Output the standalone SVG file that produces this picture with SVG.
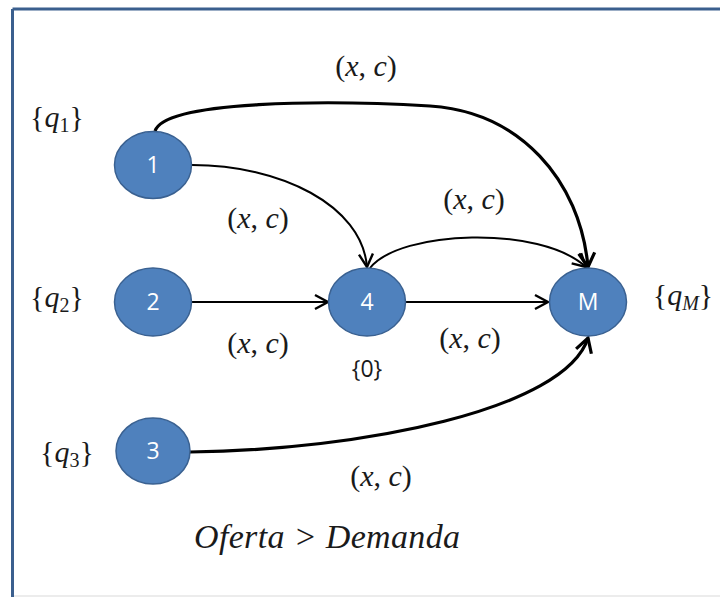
<svg xmlns="http://www.w3.org/2000/svg" width="720" height="597" viewBox="0 0 720 597">
<style>
.node ellipse{fill:#4F81BD;stroke:#3A6191;stroke-width:1.5}
.node text{fill:#fff;font-family:"Open Sans","Liberation Sans",sans-serif;font-size:23px;text-anchor:middle}
.m{font-family:"Liberation Serif","DejaVu Serif",serif;font-size:30px;fill:#1a1a1a;text-anchor:middle}
.i{font-style:italic}
.s{font-size:20px}
.big{font-size:34px}
.lbl{font-family:"Open Sans","Liberation Sans",sans-serif;font-size:23px;fill:#1a1a1a;text-anchor:middle}
.e{fill:none;stroke:#000}
.thin{stroke-width:2}
.thick{stroke-width:3.2}
</style>
<defs>
<marker id="ah" markerUnits="userSpaceOnUse" markerWidth="20" markerHeight="20" refX="15" refY="8" orient="auto" viewBox="0 0 20 16">
<path d="M2,1 L15,8 L2,15" fill="none" stroke="#000" stroke-width="2.4"/>
</marker>
<marker id="ahb" markerUnits="userSpaceOnUse" markerWidth="22" markerHeight="22" refX="16" refY="9" orient="auto" viewBox="0 0 22 18">
<path d="M2,1 L16,9 L2,17" fill="none" stroke="#000" stroke-width="3.2"/>
</marker>
</defs>
<rect x="0" y="0" width="720" height="597" fill="#fff"/>
<g id="frame">
<line x1="12.5" y1="9" x2="720" y2="9" stroke="#3B5F8E" stroke-width="3"/>
<line x1="12.5" y1="9" x2="12.5" y2="597" stroke="#3B5F8E" stroke-width="3"/>
<line x1="14" y1="596" x2="720" y2="596" stroke="#e6e6e6" stroke-width="1.5"/>
</g>
<g id="connectors">
<path class="e thick" d="M155,131 C165,100 330,100 430,106 C520,112 580,180 588,267" marker-end="url(#ahb)"/>
<path class="e thin" d="M192,165 C280,165 362,205 367,267" marker-end="url(#ah)"/>
<path class="e thin" d="M370,268 C400,230 540,225 586,267" marker-end="url(#ah)"/>
<path class="e thin" d="M192,302 L328,302" marker-end="url(#ah)"/>
<path class="e thin" d="M406,302 L548,302" marker-end="url(#ah)"/>
<path class="e thick" d="M190,452 C360,450 565,410 588,338" marker-end="url(#ahb)"/>
</g>
<g id="node1" class="node"><ellipse cx="153" cy="165" rx="38.5" ry="33.5"/><text x="153" y="173">1</text></g>
<g id="node2" class="node"><ellipse cx="153" cy="302" rx="38.5" ry="34"/><text x="153" y="310">2</text></g>
<g id="node3" class="node"><ellipse cx="153" cy="451" rx="37" ry="33"/><text x="153" y="459">3</text></g>
<g id="node4" class="node"><ellipse cx="367" cy="302" rx="38.5" ry="34"/><text x="367" y="310">4</text></g>
<g id="nodeM" class="node"><ellipse cx="588" cy="302" rx="38.5" ry="34"/><text x="588" y="310">M</text></g>
<g id="labels">
<text class="m" x="366" y="76">(<tspan class="i">x</tspan>, <tspan class="i">c</tspan>)</text>
<text class="m" x="258" y="228">(<tspan class="i">x</tspan>, <tspan class="i">c</tspan>)</text>
<text class="m" x="474" y="209">(<tspan class="i">x</tspan>, <tspan class="i">c</tspan>)</text>
<text class="m" x="258" y="353">(<tspan class="i">x</tspan>, <tspan class="i">c</tspan>)</text>
<text class="m" x="470" y="348">(<tspan class="i">x</tspan>, <tspan class="i">c</tspan>)</text>
<text class="m" x="381" y="486">(<tspan class="i">x</tspan>, <tspan class="i">c</tspan>)</text>
<text class="m" x="57" y="127">{<tspan class="i">q</tspan><tspan class="s" dy="5">1</tspan><tspan dy="-5">}</tspan></text>
<text class="m" x="57" y="307">{<tspan class="i">q</tspan><tspan class="s" dy="5">2</tspan><tspan dy="-5">}</tspan></text>
<text class="m" x="67" y="462">{<tspan class="i">q</tspan><tspan class="s" dy="5">3</tspan><tspan dy="-5">}</tspan></text>
<text class="m" x="683" y="305">{<tspan class="i">q</tspan><tspan class="s i" dy="5">M</tspan><tspan dy="-5">}</tspan></text>
<text class="lbl" x="367" y="377">{0}</text>
<text class="m i big" x="327" y="548" textLength="266" lengthAdjust="spacing">Oferta &gt; Demanda</text>
</g>
</svg>
